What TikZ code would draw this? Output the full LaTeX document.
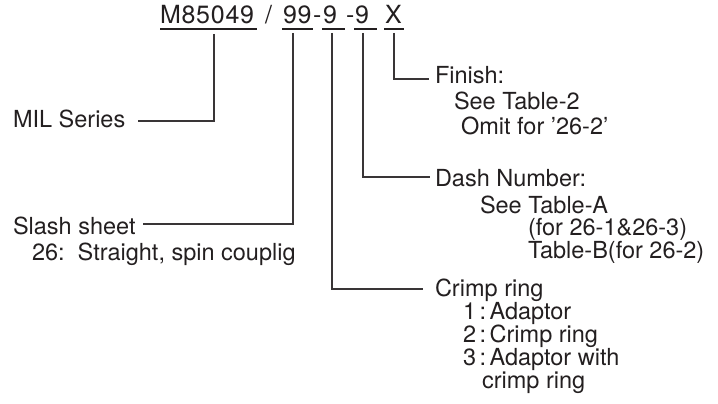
\documentclass[tikz,border=0pt]{standalone}
\usepackage{fontspec}
\setmainfont{TeX Gyre Heros}
\newfontfamily\titlefont[LetterSpace=3]{TeX Gyre Heros}
\definecolor{ink}{HTML}{231F20}
\begin{document}
\begin{tikzpicture}[x=1pt,y=-1pt,
  lbl/.style={anchor=base west,inner sep=0pt,outer sep=0pt,text=ink,font=\fontsize{23.5}{23.5}\selectfont},
  ttl/.style={anchor=base west,inner sep=0pt,outer sep=0pt,text=ink,font=\titlefont\fontsize{25}{25}\selectfont},
  uline/.style={draw=ink,line width=1.9pt},
  conn/.style={draw=ink!90,line width=1.2pt}]
\useasboundingbox (0,0) rectangle (718,404);
% title
\node[ttl] (tm) at (160,24) {M85049};
\node[ttl] (tsl) at (265,24) {/};
\node[ttl] (t99) at (283,24) {99};
\node[ttl] (th1) at (313,24) {-};
\node[ttl] (t9a) at (323,24) {9};
\node[ttl] (th2) at (346,24) {-};
\node[ttl] (t9b) at (355,24) {9};
\node[ttl] (tx) at (385,24) {X};
\draw[uline] (160,29) -- (257,29);
\draw[uline] (282,29) -- (313,29);
\draw[uline] (322,29) -- (345,29);
\draw[uline] (354,29) -- (377,29);
\draw[uline] (384,29) -- (404,29);
% tick coordinates
\coordinate (s1) at (214,34);
\coordinate (s2) at (293,33);
\coordinate (s3) at (332,33);
\coordinate (s4) at (363,33);
\coordinate (s5) at (394,33);
\coordinate (c1) at (214,121);
\coordinate (c2) at (293,224);
\coordinate (c3) at (332,289);
\coordinate (c4) at (363,177);
\coordinate (c5) at (394,79);
\coordinate (e1) at (138,121);
\coordinate (e2) at (143,224);
\coordinate (e3) at (423,289);
\coordinate (e4) at (430,177);
\coordinate (e5) at (429,79);
\draw[conn] (s1) -- (c1) -- (e1);
\draw[conn] (s2) -- (c2) -- (e2);
\draw[conn] (s3) -- (c3) -- (e3);
\draw[conn] (s4) -- (c4) -- (e4);
\draw[conn] (s5) -- (c5) -- (e5);
% labels
\node[lbl] (mil) at (13,127) {MIL Series};
\node[lbl] (slash) at (13,234) {Slash sheet};
\node[lbl] (slash2) at (32,260) {26:\ \ Straight, spin couplig};
\node[lbl] (fin) at (435,84) {Finish:};
\node[lbl] (fin2) at (454,110) {See Table-2};
\node[lbl] (fin3) at (461,135) {Omit for ’26-2’};
\node[lbl] (dash) at (435,186) {Dash Number:};
\node[lbl] (dash2) at (480,213) {See Table-A};
\node[lbl] (dash3) at (528,235) {(for 26-1\&26-3)};
\node[lbl] (dash4) at (528,258) {Table-B(for 26-2)};
\node[lbl] (cr) at (435,296) {Crimp ring};
\node[lbl] (cr1) at (463,319) {1\hspace{3.5pt}:\hspace{3.5pt}Adaptor};
\node[lbl] (cr2) at (463,342) {2\hspace{3.5pt}:\hspace{3.5pt}Crimp ring};
\node[lbl] (cr3) at (463,365) {3\hspace{3.5pt}:\hspace{3.5pt}Adaptor with};
\node[lbl] (cr4) at (482,388) {crimp ring};
\end{tikzpicture}
\end{document}
